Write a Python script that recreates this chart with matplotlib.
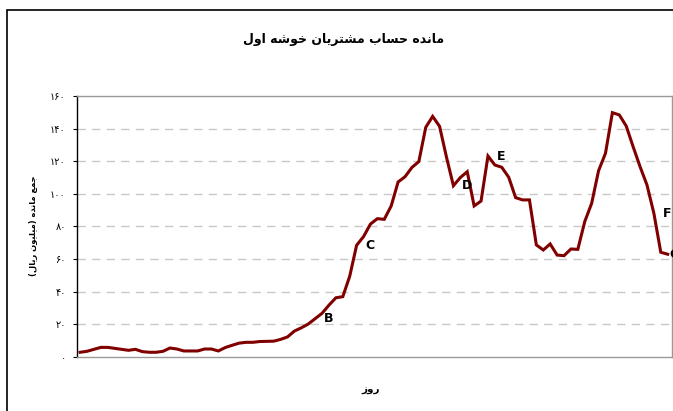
import matplotlib
matplotlib.use("Agg")
import matplotlib.pyplot as plt
from matplotlib.patches import Rectangle

plt.rcParams['font.family'] = ['DejaVu Sans']

# data (one value per day, million rial)
balance = [
    2.9, 3.5, 4.7, 5.9, 5.9, 5.3, 4.7, 4.1, 4.7, 3.3,
    2.9, 2.9, 3.5, 5.5, 4.9, 3.7, 3.7, 3.7, 4.9, 4.9,
    3.7, 5.8, 7.2, 8.5, 9.0, 9.0, 9.5, 9.6, 9.7, 10.8,
    12.3, 15.9, 17.9, 20.2, 23.5, 26.8, 31.8, 36.3, 37.0, 49.5,
    68.5, 73.8, 81.5, 84.8, 84.4, 92.6, 107.3, 110.5, 116.2, 119.8,
    140.8, 147.5, 141.4, 122.5, 105.0, 110.0, 113.6, 92.6, 95.6, 123.2,
    117.7, 116.3, 110.2, 97.7, 96.3, 96.3, 68.7, 65.6, 69.3, 62.5,
    62.1, 66.2, 66.0, 83.0, 94.2, 114.2, 124.9, 149.8, 148.4, 141.6,
    128.9, 116.7, 105.5, 88.1, 64.2, 63.0,
]
point_labels = ["B", "C", "D", "E", "F", "G"]
label_points = [34, 40, 54, 59, 83, 85]
y_ticks = [0, 20, 40, 60, 80, 100, 120, 140, 160]

title = "مانده حساب مشتریان خوشه اول"
ylabel = "جمع مانده (میلیون ریال)"
xlabel = "روز"

# minimal arabic shaping (matplotlib has no complex text layout)
FORMS = {
    'ا': ('\uFE8D', '\uFE8E', None, None),
    'ب': ('\uFE8F', '\uFE90', '\uFE91', '\uFE92'),
    'ت': ('\uFE95', '\uFE96', '\uFE97', '\uFE98'),
    'ج': ('\uFE9D', '\uFE9E', '\uFE9F', '\uFEA0'),
    'ح': ('\uFEA1', '\uFEA2', '\uFEA3', '\uFEA4'),
    'خ': ('\uFEA5', '\uFEA6', '\uFEA7', '\uFEA8'),
    'د': ('\uFEA9', '\uFEAA', None, None),
    'ر': ('\uFEAD', '\uFEAE', None, None),
    'ز': ('\uFEAF', '\uFEB0', None, None),
    'س': ('\uFEB1', '\uFEB2', '\uFEB3', '\uFEB4'),
    'ش': ('\uFEB5', '\uFEB6', '\uFEB7', '\uFEB8'),
    'ع': ('\uFEC9', '\uFECA', '\uFECB', '\uFECC'),
    'ل': ('\uFEDD', '\uFEDE', '\uFEDF', '\uFEE0'),
    'م': ('\uFEE1', '\uFEE2', '\uFEE3', '\uFEE4'),
    'ن': ('\uFEE5', '\uFEE6', '\uFEE7', '\uFEE8'),
    'ه': ('\uFEE9', '\uFEEA', '\uFEEB', '\uFEEC'),
    'و': ('\uFEED', '\uFEEE', None, None),
    'ی': ('\uFEEF', '\uFEF0', '\uFEF3', '\uFEF4'),
}


def shape(s):
    out = []
    for i, c in enumerate(s):
        if c not in FORMS:
            out.append(c)
            continue
        prev = s[i - 1] if i > 0 else ''
        nxt = s[i + 1] if i + 1 < len(s) else ''
        join_prev = prev in FORMS and FORMS[prev][2] is not None
        join_next = nxt in FORMS and FORMS[c][2] is not None
        iso, fin, ini, med = FORMS[c]
        if join_prev and join_next:
            out.append(med)
        elif join_prev:
            out.append(fin)
        elif join_next:
            out.append(ini)
        else:
            out.append(iso)
    vis = ''.join(reversed(out))
    return vis.translate(str.maketrans('()', ')('))


def fa_digits(n):
    return str(n).translate(str.maketrans('0123456789', '۰۱۲۳۴۵۶۷۸۹'))


fig = plt.figure(figsize=(6.73, 4.11), dpi=100)
W, H = 673, 411

# outer chart frame
fig.patches.append(Rectangle((7 / W, -0.05), 1.0, 1 - 10 / H + 0.05, transform=fig.transFigure,
                             fill=False, ec='black', lw=1.2))

ax = fig.add_axes([77 / W, (H - 357) / H, (671.5 - 77) / W, (357 - 96) / H])

x = list(range(len(balance)))
ax.plot(x, balance, color='#800000', lw=2.2, solid_joinstyle='miter')

offsets = [9.5, 9.5, 9.5, 9.5, 9.5, 5]
for name, i, dx in zip(point_labels, label_points, offsets):
    ax.annotate(name, (i, balance[i]), xytext=(dx, 0), textcoords='offset points',
                ha='center', va='center', fontsize=9, fontweight='bold', annotation_clip=False)

ax.set_xlim(-0.45, len(balance) - 0.45)
ax.set_ylim(0, 160)
ax.set_yticks(y_ticks)
ax.set_yticklabels([fa_digits(v) for v in y_ticks], fontsize=7)
ax.set_xticks([])
ax.tick_params(axis='y', length=3, width=0.8, color='black', pad=5)

for v in y_ticks[1:-1]:
    ax.axhline(v, color='#c8c8c8', lw=1, ls=(0, (6, 4.5)), zorder=0)

for side in ['top', 'right', 'bottom']:
    ax.spines[side].set_color('#999999')
    ax.spines[side].set_linewidth(1)
ax.spines['left'].set_color('black')
ax.spines['left'].set_linewidth(1)

fig.text(344 / W, 1 - 40 / H, shape(title), ha='center', va='center', fontsize=9, fontweight='bold')
fig.text(34 / W, 1 - 226 / H, shape(ylabel), ha='center', va='center', rotation=90,
         fontsize=6, fontweight='bold')
fig.text(371 / W, 1 - 390 / H, shape(xlabel), ha='center', va='center', fontsize=7.5, fontweight='bold')

fig.savefig('out.png', dpi=100)
